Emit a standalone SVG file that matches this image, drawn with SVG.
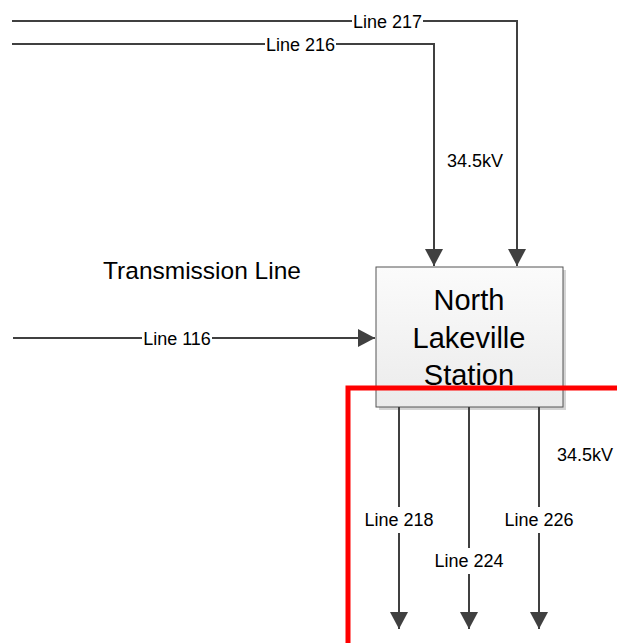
<svg xmlns="http://www.w3.org/2000/svg" width="617" height="643" viewBox="0 0 617 643">
<style>
.ln{fill:none;stroke:#404040;stroke-width:2}
.lbl{font-family:"Liberation Sans",Arial,sans-serif;font-size:18px;fill:#000;text-anchor:middle}
.big{font-family:"Liberation Sans",Arial,sans-serif;font-size:29px;fill:#000;text-anchor:middle}
.bg{fill:#fff}
</style>
<defs>
<marker id="ah" viewBox="0 0 17 18" refX="17" refY="9" markerWidth="17" markerHeight="18" markerUnits="userSpaceOnUse" orient="auto">
<path d="M0,0 L17,9 L0,18 Z" fill="#404040"/>
</marker>
<linearGradient id="gb" x1="0" y1="0" x2="0" y2="1">
<stop offset="0" stop-color="#fbfbfb"/>
<stop offset="1" stop-color="#ebebeb"/>
</linearGradient>
</defs>
<rect width="617" height="643" fill="#fff"/>
<g id="station">
<rect x="379" y="270" width="187" height="140" fill="#d4d4d4"/>
<rect x="376" y="267" width="187" height="140" fill="url(#gb)" stroke="#555" stroke-width="1"/>
<text class="big" x="469" y="310">North</text>
<text class="big" x="469" y="348">Lakeville</text>
<text class="big" x="469" y="385">Station</text>
</g>
<g id="title">
<text x="202" y="279" font-family="Liberation Sans, Arial, sans-serif" font-size="24.5" text-anchor="middle" fill="#000">Transmission Line</text>
</g>
<g id="connectors">
<path class="ln" d="M12,21 H517 V266" marker-end="url(#ah)"/>
<path class="ln" d="M12,44 H434 V266" marker-end="url(#ah)"/>
<path class="ln" d="M13,338 H375" marker-end="url(#ah)"/>
<path class="ln" d="M399,407 V629" marker-end="url(#ah)"/>
<path class="ln" d="M469,407 V629" marker-end="url(#ah)"/>
<path class="ln" d="M539,407 V629" marker-end="url(#ah)"/>
<rect class="bg" x="352" y="12" width="71" height="18"/>
<text class="lbl" x="387.5" y="27.5">Line 217</text>
<rect class="bg" x="265" y="35" width="71" height="18"/>
<text class="lbl" x="300.5" y="50.5">Line 216</text>
<rect class="bg" x="142" y="329" width="70" height="18"/>
<text class="lbl" x="177" y="344.5">Line 116</text>
<rect class="bg" x="362" y="507" width="74" height="26"/>
<text class="lbl" x="399" y="526">Line 218</text>
<rect class="bg" x="432" y="548" width="74" height="26"/>
<text class="lbl" x="469" y="567">Line 224</text>
<rect class="bg" x="502" y="507" width="74" height="26"/>
<text class="lbl" x="539" y="526">Line 226</text>
<text class="lbl" x="475" y="167">34.5kV</text>
<text class="lbl" x="585" y="461">34.5kV</text>
</g>
<g id="boundary">
<path d="M348,643 V388 H617" fill="none" stroke="#ff0000" stroke-width="5"/>
</g>
</svg>
